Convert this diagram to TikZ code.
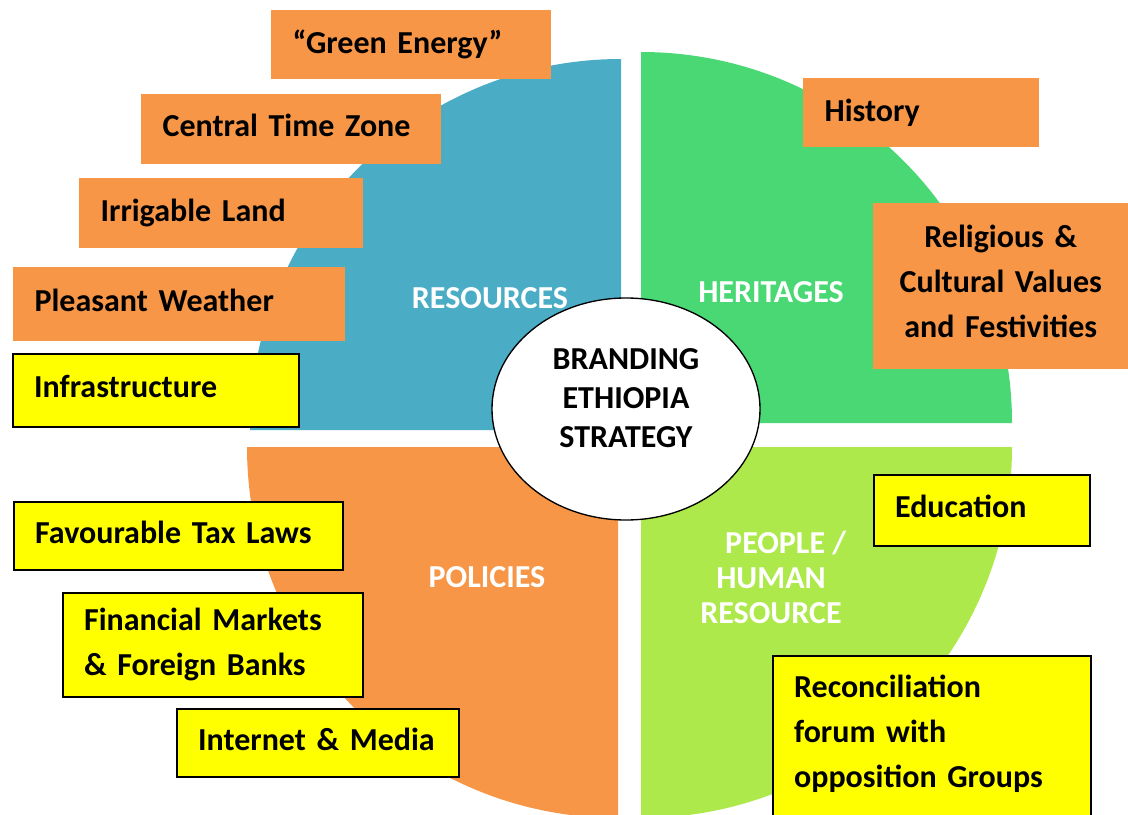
\documentclass[tikz,border=0pt]{standalone}
\usepackage{fontspec}
\setmainfont{Carlito}
\usetikzlibrary{shapes.geometric}
\definecolor{resblue}{HTML}{4BACC6}
\definecolor{herigreen}{HTML}{4AD874}
\definecolor{polorange}{HTML}{F79646}
\definecolor{peoplegreen}{HTML}{ADE94A}
\definecolor{boxyellow}{RGB}{255,255,0}
\begin{document}
\begin{tikzpicture}[x=0.75pt, y=-0.75pt,
	quarter/.style={text=white, align=center, font=\fontsize{24}{26.25}\selectfont\bfseries},
	obox/.style={fill=polorange, anchor=north west, inner xsep=16pt, align=left, font=\fontsize{24}{33.75}\selectfont\bfseries},
	ybox/.style={obox, fill=boxyellow, draw=black, line width=1.2pt},
	oneline/.style={text depth=6pt}]
	\useasboundingbox (0,0) rectangle (1128,814);

	\fill [resblue] (621,430) -- ++(-371,0) arc [start angle=180, end angle=270, radius=371] -- cycle;
	\fill [herigreen] (641,423) -- ++(0,-371) arc [start angle=270, end angle=360, radius=371] -- cycle;
	\fill [polorange] (618,447) -- ++(-371,0) arc [start angle=180, end angle=90, radius=371] -- cycle;
	\fill [peoplegreen] (641,447) -- ++(371,0) arc [start angle=0, end angle=90, radius=371] -- cycle;

	\node [quarter] (res) at (490,298) {RESOURCES};
	\node [quarter] (her) at (771,292) {HERITAGES};
	\node [quarter] (pol) at (487,577) {POLICIES};
	\node [quarter] (peo) at (771,577) {\hspace*{22pt}PEOPLE /\\HUMAN\\RESOURCE};

	\node [ellipse, draw=black, fill=white, line width=1pt, minimum width=201pt, minimum height=166.5pt, align=center, font=\fontsize{24}{29.6}\selectfont\bfseries] (core) at (626,409) {BRANDING\\ETHIOPIA\\STRATEGY\rule[-16.5pt]{0pt}{1pt}};

	\node [obox, text width=178pt, minimum height=51.75pt] (energy) at (271,10) {“Green Energy”};
	\node [obox, oneline, text width=193pt, minimum height=52.5pt] (timezone) at (141,94) {Central Time Zone};
	\node [obox, text width=181pt, minimum height=52.5pt] (land) at (79,178) {Irrigable Land};
	\node [obox, oneline, text width=217pt, minimum height=55.5pt] (weather) at (13,267) {Pleasant Weather};
	\node [ybox, oneline, text width=182.5pt, minimum height=54.75pt] (infra) at (12,353) {Infrastructure};

	\node [obox, text width=145pt, minimum height=51.75pt] (history) at (803,78) {History};
	\node [obox, align=center, text width=159.25pt, minimum height=124.5pt] (values) at (873,203) {Religious \&\\Cultural Values\\and Festivities\rule[-7pt]{0pt}{1pt}};

	\node [ybox, oneline, text width=214.75pt, minimum height=51pt] (tax) at (13,501) {Favourable Tax Laws};
	\node [ybox, text width=193pt, minimum height=78pt] (finance) at (62,592) {Financial Markets\\\& Foreign Banks};
	\node [ybox, oneline, text width=179.5pt, minimum height=51pt] (media) at (176,708) {Internet \& Media};

	\node [ybox, oneline, text width=130pt, minimum height=53.25pt] (education) at (873,474) {Education};
	\node [ybox, text width=206.5pt, inner ysep=14.25pt] (forum) at (772,655) {Reconciliation\\forum with\\opposition Groups\rule[-32pt]{0pt}{1pt}};

\end{tikzpicture}
\end{document}
